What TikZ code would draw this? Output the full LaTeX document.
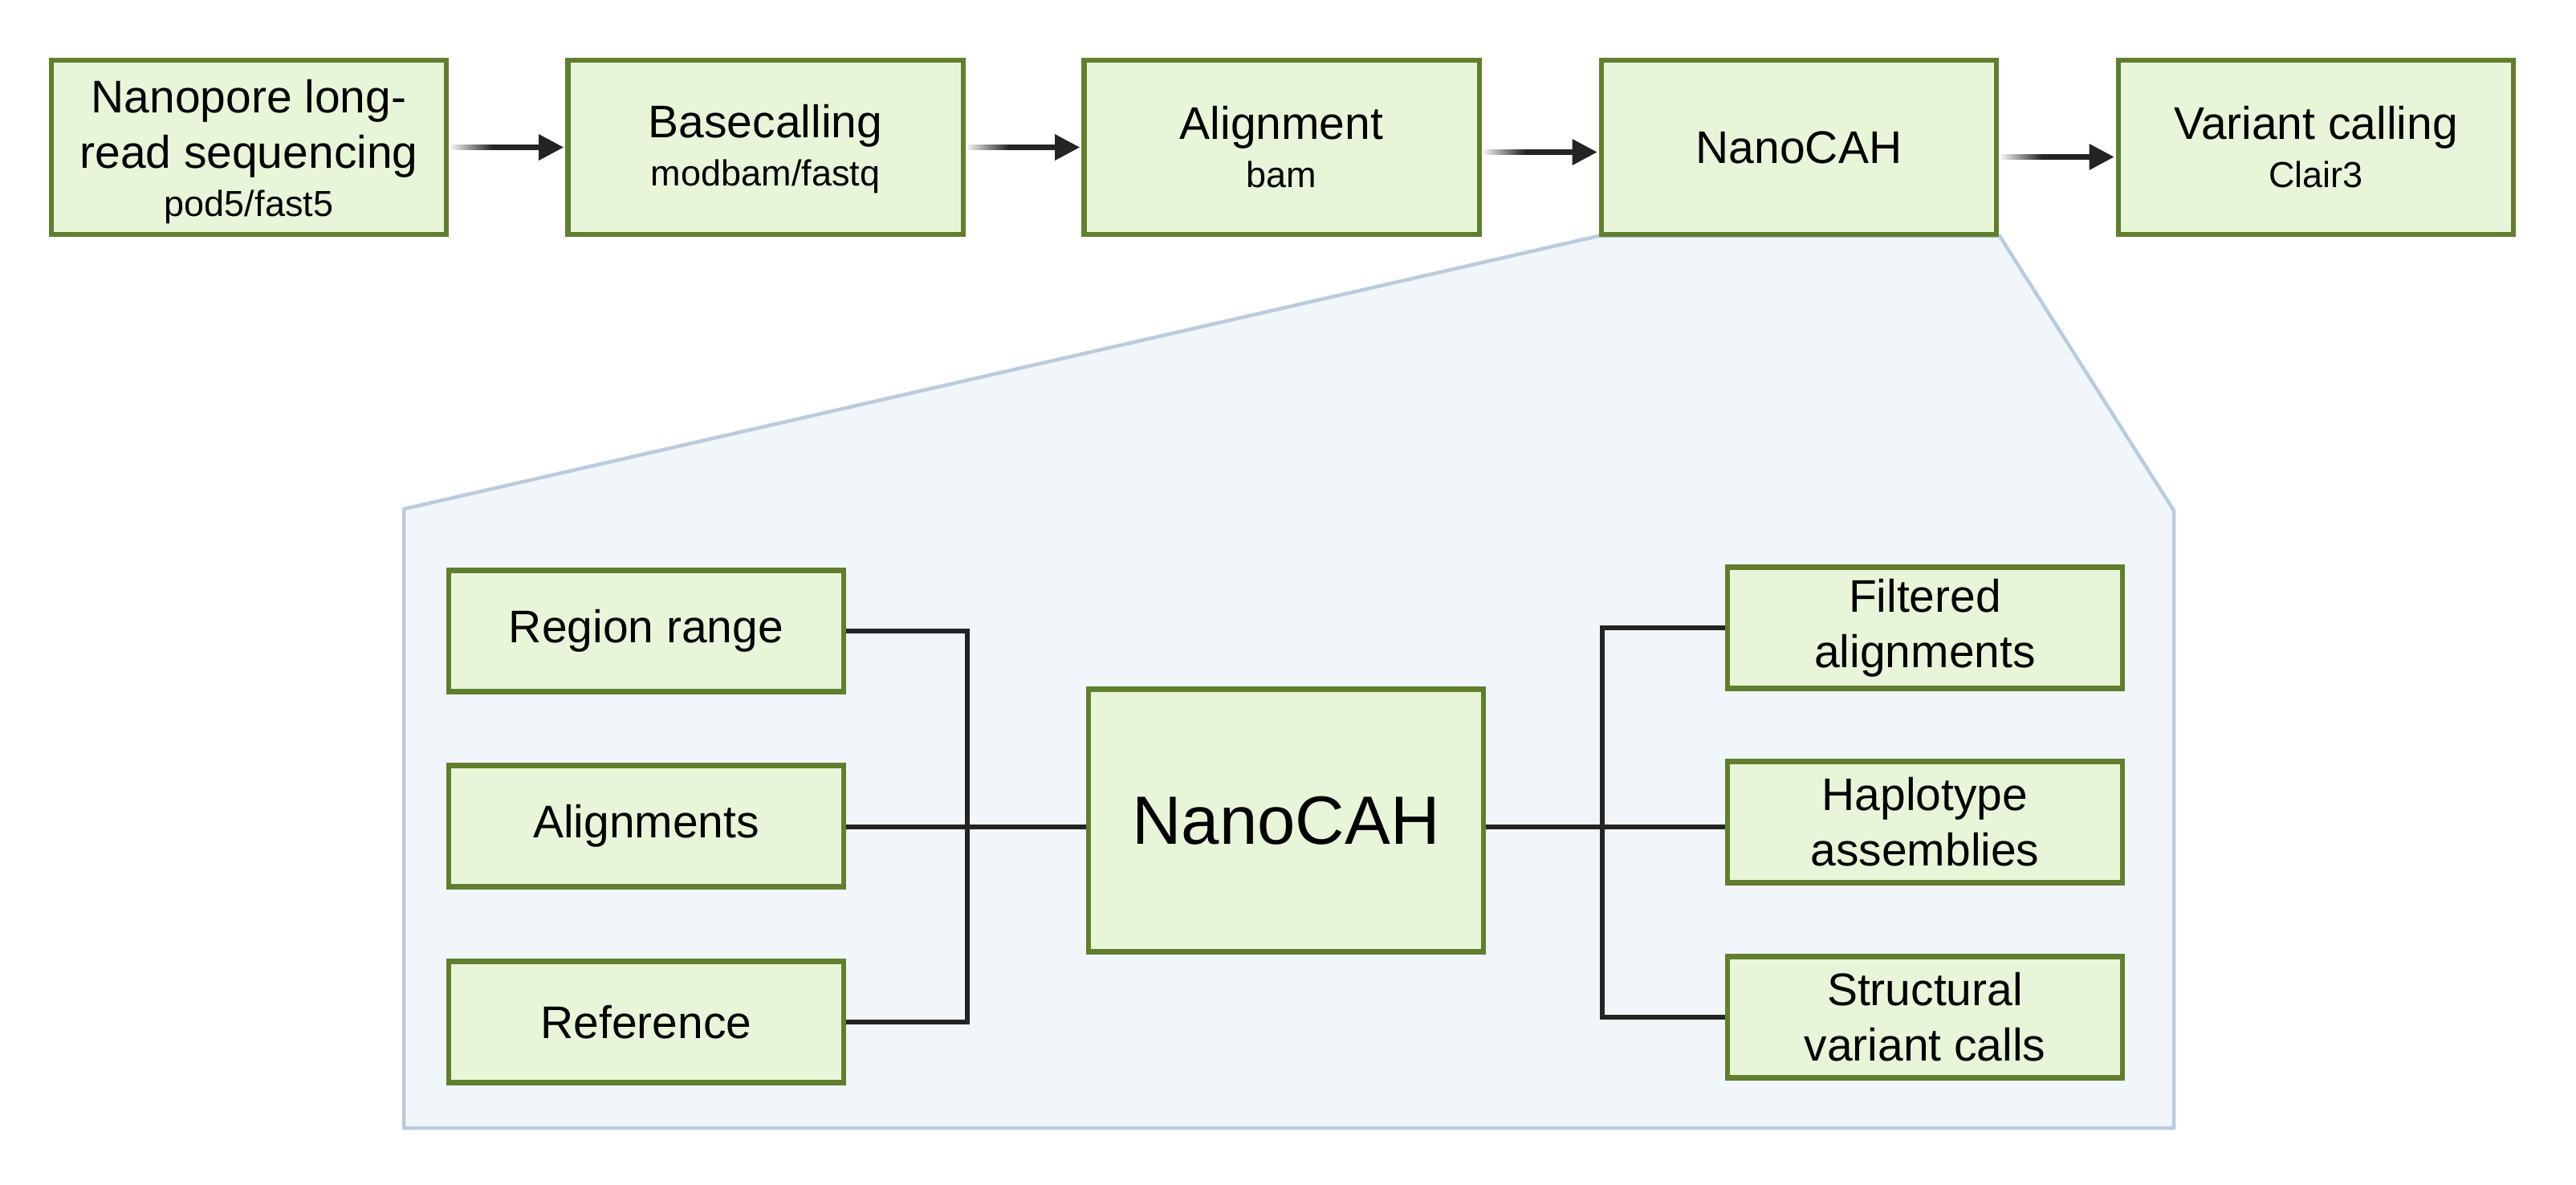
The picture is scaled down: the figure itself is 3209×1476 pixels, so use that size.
\documentclass[tikz,border=0pt]{standalone}
\usepackage{fontspec}
\setmainfont{Liberation Sans}
\usetikzlibrary{arrows.meta,calc}
\definecolor{boxfill}{RGB}{233,245,216}
\definecolor{boxline}{RGB}{96,127,46}
\definecolor{panelfill}{RGB}{241,246,251}
\definecolor{panelline}{RGB}{187,203,222}
\definecolor{inkdark}{RGB}{36,36,36}
\newcommand{\mainsz}{\fontsize{16.2}{19.6}\selectfont}
\newcommand{\subsz}{\fontsize{12.8}{15}\selectfont}
\begin{document}
\begin{tikzpicture}[x=0.01cm,y=-0.01cm,
  stepbox/.style={draw=boxline,fill=boxfill,line width=0.063cm,inner sep=0pt,
    minimum width=4.92cm,align=center,text=black,font=\mainsz},
  topbox/.style={stepbox,minimum height=2.17cm},
  inbox/.style={stepbox,minimum height=1.51cm},
  arrline/.style={draw=inkdark,line width=0.063cm,shorten <=0.5cm,shorten >=0.02cm,
    -{Triangle[length=0.31cm,width=0.31cm]}},
  fadepart/.style={left color=black!6,right color=inkdark},
  conn/.style={draw=inkdark,line width=0.052cm}]
\useasboundingbox[fill=white] (0,0) rectangle (3209,1476);

% zoom panel
\path[fill=panelfill,draw=panelline,line width=0.045cm,line join=round]
  (1991,294) -- (2491,294) -- (2708,636) -- (2708,1405) -- (503,1405) -- (503,634) -- cycle;

% top row
\node[topbox] (b1) at (310,183.5) {\rule{0pt}{15pt}Nanopore long-\\read sequencing\\[-2.5pt]{\subsz pod5/fast5}};
\node[topbox] (b2) at (953.5,183.5) {\rule{0pt}{13pt}Basecalling\\[-2.5pt]{\subsz modbam/fastq}};
\node[topbox] (b3) at (1596.5,183.5) {Alignment\\[-2.5pt]{\subsz bam}};
\node[topbox] (b4) at (2241,183.5) {NanoCAH};
\node[topbox] (b5) at (2885,183.5) {Variant calling\\[-2.5pt]{\subsz Clair3}};

% arrows with faded start
\foreach \a/\b/\s in {b1/b2/0,b2/b3/0,b3/b4/-0.06,b4/b5/-0.12}{
  \path[arrline] ([xshift=0.03cm,yshift=\s cm]\a.east) -- ([yshift=\s cm]\b.west);
  \shade[fadepart] ([xshift=0.03cm,yshift=\s cm+0.0315cm]\a.east) rectangle ([xshift=0.54cm,yshift=\s cm-0.0315cm]\a.east);
}

% lower panel boxes
\node[inbox] (rr) at (805,786) {Region range};
\node[inbox] (al) at (805,1029) {Alignments};
\node[inbox] (rf) at (805,1273) {Reference};
\node[stepbox,minimum height=3.27cm,font=\fontsize{24.2}{29}\selectfont] (nc) at (1602,1022) {NanoCAH};
\node[inbox] (fa) at (2398,782) {Filtered\\alignments};
\node[inbox] (ha) at (2398,1024) {Haplotype\\assemblies};
\node[inbox] (sv) at (2398,1267) {Structural\\variant calls};

\coordinate (jl) at (1205,1030);
\coordinate (jr) at (1996,1030);

% left bracket
\draw[conn] (rr.east) -- (rr.east -| jl) -- (rf.east -| jl) -- (rf.east);
\draw[conn] (al.east |- jl) -- (jl -| nc.west);
% right bracket
\draw[conn] (jr -| nc.east) -- (jr -| ha.west);
\draw[conn] (fa.west) -- (fa.west -| jr) -- (sv.west -| jr) -- (sv.west);
\end{tikzpicture}
\end{document}
